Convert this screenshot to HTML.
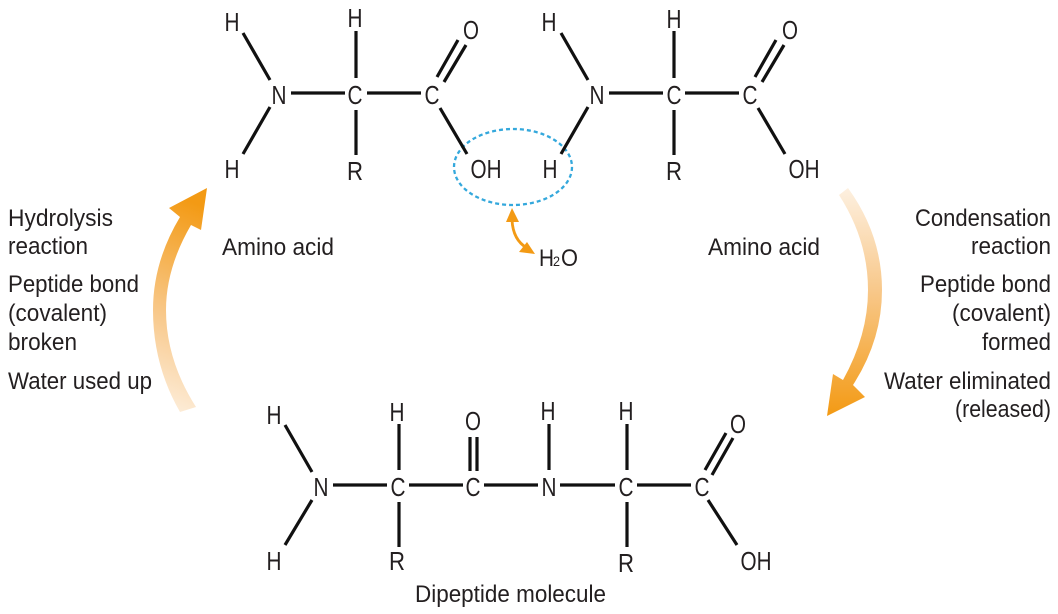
<!DOCTYPE html>
<html><head><meta charset="utf-8"><style>
html,body{margin:0;padding:0;background:#fff}
svg{display:block}
text{font-family:"Liberation Sans Narrow","Liberation Sans",sans-serif;fill:#231f20;font-size:24px}
.a{text-anchor:middle;font-size:25.5px}
</style></head><body>
<svg width="1058" height="614" viewBox="0 0 1058 614" xmlns="http://www.w3.org/2000/svg">
<defs>
<linearGradient id="gl" x1="0" y1="1" x2="0.1" y2="0"><stop offset="0" stop-color="#fdf0e0"/><stop offset="0.45" stop-color="#f8c88a"/><stop offset="1" stop-color="#f39a14"/></linearGradient>
<linearGradient id="gr" x1="0" y1="0" x2="0" y2="1"><stop offset="0" stop-color="#fdf0e0"/><stop offset="0.45" stop-color="#f8c88a"/><stop offset="1" stop-color="#f39a14"/></linearGradient>
</defs>

<!-- big arrows -->
<path d="M207 188 L169 208 L180 217 Q153 262 153 310 Q153 365 180 412 L196 407 Q166 360 166 310 Q166 268 191 225 L201 230 Z" fill="url(#gl)"/>
<path d="M839 195 L848 188 Q882 235 882 290 Q882 340 853 385 L865 397 L827 416 L833 374 L843 380 Q868 335 868 290 Q868 240 839 195 Z" fill="url(#gr)"/>

<!-- ellipse -->
<ellipse cx="513" cy="167" rx="59" ry="38" fill="none" stroke="#34a8dc" stroke-width="2.3" stroke-dasharray="4 3"/>

<!-- bonds -->
<g stroke="#111" stroke-width="3.2" fill="none">
<path d="M243 33L270 80M270 107L243 154M291 93H345M356 31V78M356 110V155M367 93H421M437 77L458 40M444 82L466 45M440 108L467 154"/>
<path d="M561 33L588 80M588 107L561 154M609 93H663M674 31V78M674 110V155M685 93H739M755 77L776 40M762 82L784 45M758 108L785 154"/>
<path d="M285 425L312 472M312 500L285 545M333 485H387M399 424V470M399 502V547M409 485H463M470 437V471M477 437V471M484 485H538M549 424V470M560 485H615M627 424V470M627 502V547M637 485H691M705 470L726 433M712 475L733 438M708 500L737 545"/>
</g>

<!-- small arrow -->
<path d="M512 220 Q513 240 527 248" fill="none" stroke="#f39a14" stroke-width="2.8"/>
<path d="M512 208 L506 222 L519 222 Z" fill="#f39a14"/>
<path d="M535 254 L527 242 L519 252 Z" fill="#f39a14"/>

<!-- top atoms -->
<g>
<text class="a" x="232" y="31" textLength="15" lengthAdjust="spacingAndGlyphs">H</text>
<text class="a" x="232" y="178" textLength="15" lengthAdjust="spacingAndGlyphs">H</text>
<text class="a" x="279" y="104" textLength="15" lengthAdjust="spacingAndGlyphs">N</text>
<text class="a" x="355" y="27" textLength="15" lengthAdjust="spacingAndGlyphs">H</text>
<text class="a" x="355" y="104" textLength="15" lengthAdjust="spacingAndGlyphs">C</text>
<text class="a" x="355" y="180" textLength="16" lengthAdjust="spacingAndGlyphs">R</text>
<text class="a" x="432" y="104" textLength="15" lengthAdjust="spacingAndGlyphs">C</text>
<text class="a" x="471" y="39" textLength="16" lengthAdjust="spacingAndGlyphs">O</text>
<text class="a" x="486" y="178" textLength="31" lengthAdjust="spacingAndGlyphs">OH</text>
<text class="a" x="550" y="178" textLength="15" lengthAdjust="spacingAndGlyphs">H</text>
<text class="a" x="549" y="31" textLength="15" lengthAdjust="spacingAndGlyphs">H</text>
<text class="a" x="597" y="104" textLength="15" lengthAdjust="spacingAndGlyphs">N</text>
<text class="a" x="674" y="28" textLength="15" lengthAdjust="spacingAndGlyphs">H</text>
<text class="a" x="674" y="104" textLength="15" lengthAdjust="spacingAndGlyphs">C</text>
<text class="a" x="674" y="180" textLength="16" lengthAdjust="spacingAndGlyphs">R</text>
<text class="a" x="750" y="104" textLength="15" lengthAdjust="spacingAndGlyphs">C</text>
<text class="a" x="790" y="39" textLength="16" lengthAdjust="spacingAndGlyphs">O</text>
<text class="a" x="804" y="178" textLength="31" lengthAdjust="spacingAndGlyphs">OH</text>
</g>

<!-- bottom atoms -->
<g>
<text class="a" x="274" y="424" textLength="15" lengthAdjust="spacingAndGlyphs">H</text>
<text class="a" x="274" y="570" textLength="15" lengthAdjust="spacingAndGlyphs">H</text>
<text class="a" x="321" y="496" textLength="15" lengthAdjust="spacingAndGlyphs">N</text>
<text class="a" x="397" y="421" textLength="15" lengthAdjust="spacingAndGlyphs">H</text>
<text class="a" x="398" y="496" textLength="15" lengthAdjust="spacingAndGlyphs">C</text>
<text class="a" x="397" y="570" textLength="16" lengthAdjust="spacingAndGlyphs">R</text>
<text class="a" x="473" y="496" textLength="15" lengthAdjust="spacingAndGlyphs">C</text>
<text class="a" x="473" y="430" textLength="16" lengthAdjust="spacingAndGlyphs">O</text>
<text class="a" x="549" y="496" textLength="15" lengthAdjust="spacingAndGlyphs">N</text>
<text class="a" x="548" y="420" textLength="15" lengthAdjust="spacingAndGlyphs">H</text>
<text class="a" x="626" y="420" textLength="15" lengthAdjust="spacingAndGlyphs">H</text>
<text class="a" x="626" y="496" textLength="15" lengthAdjust="spacingAndGlyphs">C</text>
<text class="a" x="626" y="572" textLength="16" lengthAdjust="spacingAndGlyphs">R</text>
<text class="a" x="702" y="496" textLength="15" lengthAdjust="spacingAndGlyphs">C</text>
<text class="a" x="738" y="433" textLength="16" lengthAdjust="spacingAndGlyphs">O</text>
<text class="a" x="756" y="570" textLength="31" lengthAdjust="spacingAndGlyphs">OH</text>
</g>

<!-- labels -->
<text x="539" y="266" textLength="15" lengthAdjust="spacingAndGlyphs">H</text>
<text x="553" y="266" style="font-size:14px" textLength="7" lengthAdjust="spacingAndGlyphs">2</text>
<text x="561" y="266" textLength="17" lengthAdjust="spacingAndGlyphs">O</text>
<text x="222" y="255" textLength="112" lengthAdjust="spacingAndGlyphs">Amino acid</text>
<text x="708" y="255" textLength="112" lengthAdjust="spacingAndGlyphs">Amino acid</text>
<text x="415" y="602" textLength="191" lengthAdjust="spacingAndGlyphs">Dipeptide molecule</text>

<text x="8" y="226" textLength="105" lengthAdjust="spacingAndGlyphs">Hydrolysis</text>
<text x="8" y="254" textLength="80" lengthAdjust="spacingAndGlyphs">reaction</text>
<text x="8" y="292" textLength="131" lengthAdjust="spacingAndGlyphs">Peptide bond</text>
<text x="8" y="321" textLength="99" lengthAdjust="spacingAndGlyphs">(covalent)</text>
<text x="8" y="350" textLength="69" lengthAdjust="spacingAndGlyphs">broken</text>
<text x="8" y="389" textLength="144" lengthAdjust="spacingAndGlyphs">Water used up</text>

<text x="915" y="226" textLength="136" lengthAdjust="spacingAndGlyphs">Condensation</text>
<text x="971" y="254" textLength="80" lengthAdjust="spacingAndGlyphs">reaction</text>
<text x="920" y="292" textLength="131" lengthAdjust="spacingAndGlyphs">Peptide bond</text>
<text x="952" y="321" textLength="99" lengthAdjust="spacingAndGlyphs">(covalent)</text>
<text x="982" y="350" textLength="69" lengthAdjust="spacingAndGlyphs">formed</text>
<text x="884" y="389" textLength="167" lengthAdjust="spacingAndGlyphs">Water eliminated</text>
<text x="955" y="417" textLength="96" lengthAdjust="spacingAndGlyphs">(released)</text>
</svg>
</body></html>
